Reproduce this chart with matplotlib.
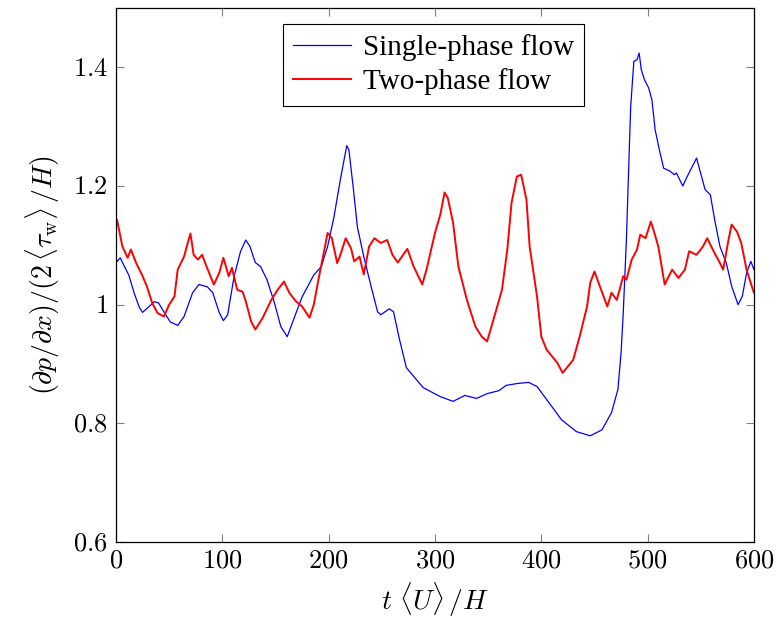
import matplotlib
matplotlib.use("Agg")
import matplotlib.pyplot as plt

plt.rcParams['mathtext.fontset'] = 'cm'
plt.rcParams['font.family'] = ['Liberation Serif', 'DejaVu Serif']

# single-phase flow (blue)
t_single = [0, 1, 4, 8, 12, 17, 22, 25, 30, 36, 40, 45, 51, 58, 64, 72, 78,
            86, 91, 97, 101, 105, 111, 117, 122, 126, 131, 136, 142, 149, 155,
            161, 167, 175, 186, 193, 199, 205, 211, 217, 219, 223, 227, 233,
            240, 246, 249, 257, 261, 266, 273, 280, 289, 305, 317, 328, 339,
            349, 360, 367, 377, 388, 396, 405, 419, 433, 446, 457, 466, 472,
            475, 477, 480, 482, 484, 487, 490, 492, 494, 497, 501, 504, 507,
            511, 515, 521, 525, 527, 533, 538, 542, 546, 549, 554, 559, 563,
            568, 574, 579, 585, 589, 593, 597, 600]
y_single = [1.070, 1.073, 1.079, 1.064, 1.050, 1.020, 0.995, 0.987, 0.995,
            1.005, 1.003, 0.988, 0.971, 0.965, 0.980, 1.020, 1.034, 1.030,
            1.020, 0.987, 0.973, 0.983, 1.047, 1.089, 1.109, 1.098, 1.071,
            1.064, 1.042, 1.003, 0.963, 0.946, 0.975, 1.013, 1.050, 1.064,
            1.098, 1.148, 1.211, 1.268, 1.261, 1.199, 1.131, 1.081, 1.030,
            0.988, 0.983, 0.993, 0.988, 0.946, 0.894, 0.879, 0.860, 0.845,
            0.837, 0.847, 0.842, 0.850, 0.855, 0.864, 0.867, 0.869, 0.862,
            0.840, 0.806, 0.786, 0.779, 0.789, 0.818, 0.857, 0.919, 0.985,
            1.109, 1.222, 1.333, 1.410, 1.413, 1.424, 1.396, 1.379, 1.365,
            1.345, 1.295, 1.261, 1.230, 1.225, 1.219, 1.222, 1.200, 1.219,
            1.233, 1.247, 1.227, 1.194, 1.185, 1.143, 1.098, 1.070, 1.031,
            1.000, 1.014, 1.053, 1.073, 1.059]

# two-phase flow (red)
t_two = [0, 1, 6, 11, 14, 19, 25, 29, 34, 39, 45, 50, 55, 58, 64, 67, 70, 73,
         77, 81, 85, 92, 97, 101, 106, 109, 114, 119, 122, 127, 131, 138, 146,
         152, 158, 163, 169, 175, 182, 186, 191, 196, 199, 203, 208, 211, 216,
         221, 224, 229, 233, 238, 243, 249, 255, 260, 265, 270, 274, 280, 288,
         292, 300, 305, 309, 312, 317, 322, 330, 338, 344, 349, 355, 363, 368,
         372, 377, 381, 386, 389, 396, 400, 405, 415, 420, 430, 436, 443, 446,
         450, 455, 462, 466, 471, 477, 480, 485, 490, 493, 498, 503, 506, 510,
         516, 523, 529, 535, 539, 546, 552, 556, 562, 568, 571, 576, 579, 584,
         588, 593, 599, 600]
y_two = [1.141, 1.143, 1.098, 1.079, 1.093, 1.070, 1.048, 1.031, 1.003, 0.986,
         0.980, 1.000, 1.014, 1.059, 1.081, 1.101, 1.120, 1.084, 1.076, 1.084,
         1.065, 1.034, 1.053, 1.079, 1.048, 1.062, 1.025, 1.022, 1.006, 0.972,
         0.958, 0.978, 1.008, 1.025, 1.039, 1.020, 1.006, 0.997, 0.978, 1.000,
         1.048, 1.093, 1.121, 1.112, 1.070, 1.084, 1.112, 1.095, 1.073, 1.081,
         1.051, 1.098, 1.112, 1.104, 1.109, 1.084, 1.071, 1.084, 1.094, 1.064,
         1.034, 1.059, 1.121, 1.152, 1.189, 1.180, 1.138, 1.064, 1.008, 0.963,
         0.946, 0.938, 0.975, 1.025, 1.093, 1.172, 1.216, 1.219, 1.177, 1.098,
         1.013, 0.946, 0.924, 0.902, 0.885, 0.907, 0.946, 0.997, 1.037, 1.056,
         1.031, 0.997, 1.020, 1.008, 1.048, 1.042, 1.076, 1.093, 1.118, 1.112,
         1.140, 1.123, 1.098, 1.034, 1.059, 1.045, 1.059, 1.090, 1.084, 1.098,
         1.112, 1.090, 1.070, 1.059, 1.109, 1.135, 1.123, 1.104, 1.059, 1.025,
         1.020]

xticks = [0, 100, 200, 300, 400, 500, 600]
yticks = [0.6, 0.8, 1.0, 1.2, 1.4]
ytick_labels = ['$0.6$', '$0.8$', '$1$', '$1.2$', '$1.4$']

fig = plt.figure(figsize=(7.77, 6.3), dpi=100)
ax = fig.add_axes([0.1493, 0.1397, 0.8211, 0.8476])

ax.plot(t_single, y_single, color='blue', linewidth=0.9, label='Single-phase flow')
ax.plot(t_two, y_two, color='red', linewidth=1.4, label='Two-phase flow')

ax.set_xlim(0, 600)
ax.set_ylim(0.6, 1.5)
ax.set_xticks(xticks)
ax.set_xticklabels(['$%d$' % v for v in xticks])
ax.set_yticks(yticks)
ax.set_yticklabels(ytick_labels)
ax.tick_params(direction='in', length=6, width=0.8, color='0.5',
               top=True, right=True, labelsize=19, pad=6)
for sp in ax.spines.values():
    sp.set_linewidth(0.9)

ax.set_xlabel(r'$t\ \langle U\rangle\,/H$', fontsize=20, labelpad=6)
ax.set_ylabel(r'$(\partial p/\partial x)/(2\,\langle\tau_\mathrm{w}\rangle\,/H)$',
              fontsize=20, labelpad=8)

leg = ax.legend(loc='upper center', bbox_to_anchor=(0.498, 0.97), fontsize=21,
                fancybox=False, framealpha=1, edgecolor='black',
                handlelength=2.0, borderpad=0.35, labelspacing=0.25,
                handletextpad=0.4, borderaxespad=0)
leg.get_frame().set_linewidth(0.8)

plt.savefig('out.png', dpi=100)
plt.close()
